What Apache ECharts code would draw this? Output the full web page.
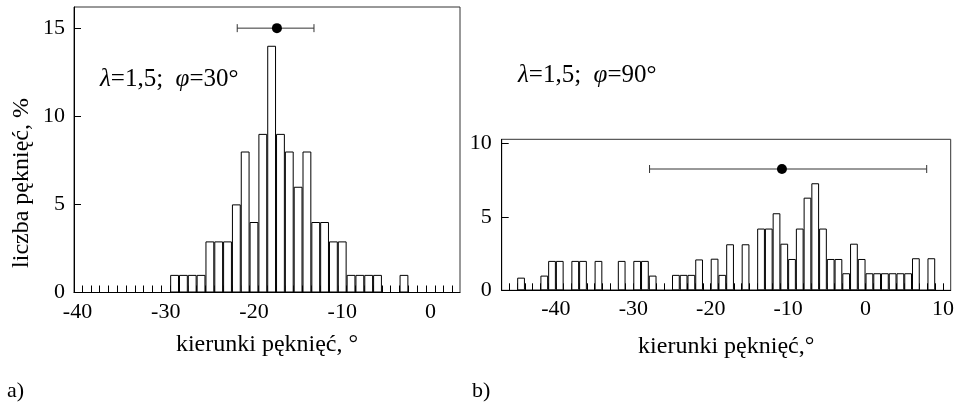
<!DOCTYPE html>
<html><head><meta charset="utf-8">
<script src="https://cdn.jsdelivr.net/npm/echarts@6/dist/echarts.min.js"></script>
<style>html,body{margin:0;padding:0;background:#fff}#c{width:961px;height:405px}</style>
</head><body><div id="c"></div>
<script>
// ---- data: panel a) (bins centred on integer angles) ----
const leftAngles = [-29,-28,-27,-26,-25,-24,-23,-22,-21,-20,-19,-18,-17,-16,-15,-14,-13,-12,-11,-10,-9,-8,-7,-6,-5,-4,-3];
const leftValues = [1,1,1,1,2.9,2.9,2.9,5,8,4,9,14,9,8,6,8,4,4,2.9,2.9,1,1,1,1,0,0,1];
// ---- data: panel b) (bins [n, n+1], given by centre) ----
const rightAngles = [-44.5,-43.5,-42.5,-41.5,-40.5,-39.5,-38.5,-37.5,-36.5,-35.5,-34.5,-33.5,-32.5,-31.5,-30.5,-29.5,-28.5,-27.5,-26.5,-25.5,-24.5,-23.5,-22.5,-21.5,-20.5,-19.5,-18.5,-17.5,-16.5,-15.5,-14.5,-13.5,-12.5,-11.5,-10.5,-9.5,-8.5,-7.5,-6.5,-5.5,-4.5,-3.5,-2.5,-1.5,-0.5,0.5,1.5,2.5,3.5,4.5,5.5,6.5,7.5,8.5];
const rightValues = [0.86,0,0,1,2,2,0,2,2,0,2,0,0,2,0,2,2,1,0,0,1.05,1.05,1.05,2.1,0,2.15,1.05,3.13,0,3.13,0,4.2,4.2,5.24,3.17,2.13,4.2,6.3,7.28,4.2,2.13,2.13,1.16,3.17,2.13,1.16,1.16,1.16,1.16,1.16,1.16,2.18,0,2.18];
// ---- tick labels / tick marks ----
const leftXLabels = [-40,-30,-20,-10,0];
const rightXLabels = [-40,-30,-20,-10,0,10];
const leftYLabels = [0,5,10,15];
const leftYTicks = [5,10,15];
const rightYLabels = [0,5,10];
const rightYTicks = [5,10];
const leftBinEdges = [-39.5,-38.5,-37.5,-36.5,-35.5,-34.5,-33.5,-32.5,-31.5,-30.5,-29.5,-28.5,-27.5,-26.5,-25.5,-24.5,-23.5,-22.5,-21.5,-20.5,-19.5,-18.5,-17.5,-16.5,-15.5,-14.5,-13.5,-12.5,-11.5,-10.5,-9.5,-8.5,-7.5,-6.5,-5.5,-4.5,-3.5,-2.5,-1.5,-0.5,0.5,1.5,2.5];
const rightBinEdges = [-46,-45,-44,-43,-42,-41,-40,-39,-38,-37,-36,-35,-34,-33,-32,-31,-30,-29,-28,-27,-26,-25,-24,-23,-22,-21,-20,-19,-18,-17,-16,-15,-14,-13,-12,-11,-10,-9,-8,-7,-6,-5,-4,-3,-2,-1,0,1,2,3,4,5,6,7,8,9,10];
// mean, height on y axis, lower, upper
const leftStat = [-17.4, 15, -21.9, -13.2];
const rightStat = [-10.8, 8.25, -27.9, 7.9];

const FONT = 'Liberation Serif';
const chart = echarts.init(document.getElementById('c'), null, {renderer: 'canvas'});

function pairs(xs, vs){ return xs.map((x,i)=>[x, vs[i]]); }

function errRender(params, api){
  const y = api.value(1);
  const m = api.coord([api.value(0), y]);
  const lo = api.coord([api.value(2), y]);
  const hi = api.coord([api.value(3), y]);
  const s = {stroke:'#333', lineWidth:1};
  return {type:'group', children:[
    {type:'line', shape:{x1:lo[0],y1:lo[1],x2:hi[0],y2:hi[1]}, style:s},
    {type:'line', shape:{x1:lo[0],y1:lo[1]-4,x2:lo[0],y2:lo[1]+4}, style:s},
    {type:'line', shape:{x1:hi[0],y1:hi[1]-4,x2:hi[0],y2:hi[1]+4}, style:s},
    {type:'circle', shape:{cx:m[0],cy:m[1],r:5}, style:{fill:'#000'}}
  ]};
}

const labelStyle = {color:'#000', fontFamily:FONT, fontSize:22};
const axLine = {show:true, onZero:false, lineStyle:{color:'#000', width:1}};

function xAxisDef(gi, min, max, labels, edges, margin, name, gap){
  return {
    type:'value', gridIndex:gi, min:min, max:max, position:'bottom',
    axisLine: axLine,
    axisTick:{show:true, inside:true, length:7, customValues:edges, lineStyle:{color:'#000', width:1}},
    axisLabel:Object.assign({customValues:labels, margin:margin}, labelStyle),
    splitLine:{show:false},
    name:name, nameLocation:'middle', nameGap:gap,
    nameTextStyle:{color:'#000', fontFamily:FONT, fontSize:24}
  };
}
function yAxisDef(gi, min, max, labels, ticks, margin){
  return {
    type:'value', gridIndex:gi, min:min, max:max, position:'left',
    axisLine: axLine,
    axisTick:{show:true, inside:true, length:7, customValues:ticks, lineStyle:{color:'#000', width:1}},
    axisLabel:Object.assign({customValues:labels, margin:margin}, labelStyle),
    splitLine:{show:false}
  };
}

chart.setOption({
  animation:false,
  backgroundColor:'#fff',
  grid:[
    {left:74, top:7, width:386, height:285.5, show:true, borderColor:'#333', borderWidth:1, backgroundColor:'transparent'},
    {left:501.7, top:139.3, width:449, height:151, show:true, borderColor:'#333', borderWidth:1, backgroundColor:'transparent'}
  ],
  xAxis:[
    xAxisDef(0, -40.4, 3.35, leftXLabels, leftBinEdges, 9, 'kierunki pęknięć, °', 40),
    xAxisDef(1, -47, 11, rightXLabels, rightBinEdges, 8, 'kierunki pęknięć,°', 44)
  ],
  yAxis:[
    yAxisDef(0, 0, 16.2, leftYLabels, leftYTicks, 9),
    yAxisDef(1, 0, 10.27, rightYLabels, rightYTicks, 10)
  ],
  series:[
    {type:'bar', xAxisIndex:0, yAxisIndex:0, data:pairs(leftAngles, leftValues), barWidth:'100%', barCategoryGap:'0%',
     itemStyle:{color:'#fff', borderColor:'#000', borderWidth:1}},
    {type:'bar', xAxisIndex:1, yAxisIndex:1, data:pairs(rightAngles, rightValues), barWidth:'100%', barCategoryGap:'0%',
     itemStyle:{color:'#fff', borderColor:'#000', borderWidth:1}},
    {type:'custom', xAxisIndex:0, yAxisIndex:0, renderItem:errRender, data:[leftStat], encode:{x:[0,2,3], y:1}, z:5},
    {type:'custom', xAxisIndex:1, yAxisIndex:1, renderItem:errRender, data:[rightStat], encode:{x:[0,2,3], y:1}, z:5}
  ],
  graphic:[
    {type:'text', x:22, y:183, rotation:Math.PI/2,
     style:{text:'liczba pęknięć, %', fontFamily:FONT, fontSize:24, fill:'#000', align:'center', verticalAlign:'middle'}},
    {type:'text', x:100, y:79,
     style:{text:'{i|λ}=1,5;  {i|φ}=30°', fontFamily:FONT, fontSize:25, fill:'#000', verticalAlign:'middle',
            rich:{i:{fontStyle:'italic', fontFamily:FONT, fontSize:25, fill:'#000'}}}},
    {type:'text', x:518, y:75,
     style:{text:'{i|λ}=1,5;  {i|φ}=90°', fontFamily:FONT, fontSize:25, fill:'#000', verticalAlign:'middle',
            rich:{i:{fontStyle:'italic', fontFamily:FONT, fontSize:25, fill:'#000'}}}},
    {type:'text', x:7, y:391, style:{text:'a)', fontFamily:FONT, fontSize:22, fill:'#000', verticalAlign:'middle'}},
    {type:'text', x:472, y:391, style:{text:'b)', fontFamily:FONT, fontSize:22, fill:'#000', verticalAlign:'middle'}}
  ]
});
</script></body></html>
